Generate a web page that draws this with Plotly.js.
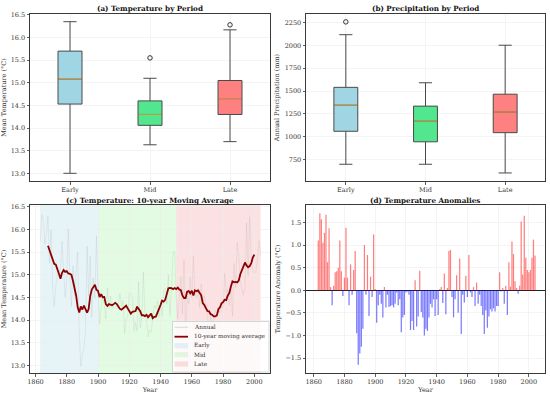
<!DOCTYPE html>
<html><head><meta charset="utf-8">
<script src="https://cdn.plot.ly/plotly-3.0.1.min.js"></script>
<style>html,body{margin:0;padding:0;background:#fff}#chart{width:550px;height:394px}</style>
</head><body><div id="chart"></div>
<script>
// ---------- data ----------
const periods = ['Early', 'Mid', 'Late'];
const tempQ1 = [14.53, 14.06, 14.30];
const tempMedian = [15.08, 14.30, 14.65];
const tempQ3 = [15.70, 14.60, 15.05];
const tempLow = [13.00, 13.63, 13.70];
const tempHigh = [16.35, 15.10, 16.17];
const tempOutPeriod = ['Mid', 'Late'];
const tempOutValue = [15.55, 16.28];

const precipQ1 = [1060, 945, 1045];
const precipMedian = [1345, 1170, 1270];
const precipQ3 = [1540, 1335, 1465];
const precipLow = [700, 700, 605];
const precipHigh = [2115, 1590, 2000];
const precipOutPeriod = ['Early'];
const precipOutValue = [2255];

const firstYear = 1863;
const baselineTemp = 14.63;
const anomaly = [
  1.10, 1.70, 1.57, 1.05, 1.27, 1.67, 0.62, 1.37, 0.07, -0.33,
  0.10, 0.40, 0.42, 0.50, 1.10, 0.42, -0.13, 0.28, 1.38, 0.28,
  -0.33, 0.57, -0.10, 0.45, 0.87, -0.95, -1.65, -1.40, -1.25, -0.85,
  1.00, -0.10, 0.78, -0.57, 0.30, -0.15, 1.23, 0.03, -0.72, -0.33,
  -0.10, -0.30, -0.60, 0.07, -0.38, -0.10, -0.37, -0.35, -0.33, -0.38,
  -0.30, -0.05, -0.33, -0.20, -0.93, -0.60, -0.55, -0.05, -0.03, -0.10,
  -0.88, -0.68, -0.88, 0.22, -0.80, -0.58, 0.43, -0.48, -0.60, -1.00,
  -0.85, -0.90, -0.60, -0.30, -0.38, -0.20, -0.57, -0.20, -0.55, 0.03,
  0.07, -0.28, 0.37, -0.53, 0.05, 0.87, 0.89, -0.15, -0.60, -0.20,
  0.33, -0.50, 0.70, -0.97, -0.10, -0.27, 0.32, -0.15, 0.78, -0.05,
  -0.15, 0.07, -0.35, 0.17, -0.30, -0.10, -0.35, -0.55, -0.97, -0.45,
  -0.83, -0.58, -0.42, -0.47, -0.40, -0.47, -0.35, -0.35, 0.40, -0.03,
  0.05, -0.30, 0.10, -0.55, 0.62, 0.08, 1.08, 0.80, 0.20, 0.05,
  -0.08, 0.10, 1.52, 0.35, 1.65, 0.72, 0.45, 0.40, 0.45, 0.72,
  1.12, 0.77
];
const periodStart = [1863, 1900, 1950];
const periodEnd = [1900, 1950, 2004];
const maWindow = 10;

// ---------- styles ----------
const boxFill = ['#a0d6e3', '#52e68f', '#ff8080'];
const periodFill = ['rgba(173,216,230,0.30)', 'rgba(144,238,144,0.26)', 'rgba(240,128,128,0.24)'];
const FF = 'DejaVu Serif';
const W = 550, H = 394;
const PX = p => p / W, PY = p => 1 - p / H;

// ---------- derived ----------
const years = anomaly.map((_, i) => firstYear + i);
const temps = anomaly.map(a => baselineTemp + a);
const maX = [], maY = [];
const half = maWindow / 2;
for (let i = half; i <= temps.length - half; i++) {
  let s = 0;
  for (let k = i - half; k < i + half; k++) s += temps[k];
  maX.push(years[i]); maY.push(s / maWindow);
}

const traces = [];
function addBoxes(xa, ya, q1, med, q3, lo, hi, outP, outV) {
  periods.forEach((p, i) => {
    traces.push({type: 'box', x: [p], q1: [q1[i]], median: [med[i]], q3: [q3[i]],
      lowerfence: [lo[i]], upperfence: [hi[i]], fillcolor: boxFill[i],
      line: {color: '#4a4a4a', width: 1}, width: 0.3, whiskerwidth: 0.55,
      boxpoints: false, xaxis: xa, yaxis: ya, showlegend: false, hoverinfo: 'skip'});
  });
  traces.push({type: 'scatter', mode: 'markers', x: periods, y: med, xaxis: xa, yaxis: ya,
    marker: {symbol: 'line-ew', size: 16.5, line: {color: '#e0a040', width: 0.9}},
    showlegend: false, hoverinfo: 'skip'});
  traces.push({type: 'scatter', mode: 'markers', x: outP, y: outV, xaxis: xa, yaxis: ya,
    marker: {symbol: 'circle-open', size: 4.5, color: '#333', line: {width: 1}},
    showlegend: false, hoverinfo: 'skip'});
}
addBoxes('x', 'y', tempQ1, tempMedian, tempQ3, tempLow, tempHigh, tempOutPeriod, tempOutValue);
addBoxes('x2', 'y2', precipQ1, precipMedian, precipQ3, precipLow, precipHigh, precipOutPeriod, precipOutValue);

traces.push({type: 'scatter', mode: 'lines', x: years, y: temps, xaxis: 'x3', yaxis: 'y3',
  line: {color: 'rgba(128,128,128,0.2)', width: 0.6}, name: 'Annual', showlegend: false, hoverinfo: 'skip'});
traces.push({type: 'scatter', mode: 'lines', x: maX, y: maY, xaxis: 'x3', yaxis: 'y3',
  line: {color: '#8b0000', width: 1.8}, name: '10-year moving average', showlegend: false, hoverinfo: 'skip'});

traces.push({type: 'bar', x: years, y: anomaly, xaxis: 'x4', yaxis: 'y4', width: 0.8,
  marker: {color: anomaly.map(a => a >= 0 ? 'rgba(255,0,0,0.5)' : 'rgba(0,0,255,0.52)'), line: {width: 0}},
  showlegend: false, hoverinfo: 'skip'});

// ---------- layout ----------
const tickFont = {family: FF, size: 6.5, color: '#333'};
const titleFont = {family: FF, size: 6.5, color: '#333'};
const base = {showline: true, mirror: true, linecolor: '#3a3a3a', linewidth: 1,
  ticks: 'outside', ticklen: 2.5, tickwidth: 0.8, tickcolor: '#3a3a3a', tickfont: tickFont,
  showgrid: true, gridcolor: '#ececec', gridwidth: 0.6, zeroline: false};
const dxL = [PX(30), PX(270)], dxR = [PX(306), PX(545)];
const dyT = [PY(181), PY(14)], dyB = [PY(373), PY(205)];

const shapes = [];
periods.forEach((p, i) => {
  shapes.push({type: 'rect', xref: 'x3', yref: 'y3 domain', x0: periodStart[i], x1: periodEnd[i],
    y0: 0, y1: 1, fillcolor: periodFill[i], line: {width: 0}, layer: 'below'});
});

// manual legend (panel c)
const legRows = [327.3, 336.7, 345.7, 354.7, 364];
const legNames = ['Annual', '10-year moving average'].concat(periods);
shapes.push({type: 'rect', xref: 'paper', yref: 'paper', x0: PX(172.5), x1: PX(269), y0: PY(372), y1: PY(321.5),
  fillcolor: 'rgba(255,255,255,0.8)', line: {color: '#cccccc', width: 0.8}});
shapes.push({type: 'line', xref: 'paper', yref: 'paper', x0: PX(174.5), x1: PX(188), y0: PY(legRows[0]), y1: PY(legRows[0]),
  line: {color: 'rgba(128,128,128,0.35)', width: 0.8}});
shapes.push({type: 'line', xref: 'paper', yref: 'paper', x0: PX(174.5), x1: PX(188), y0: PY(legRows[1]), y1: PY(legRows[1]),
  line: {color: '#8b0000', width: 1.8}});
periods.forEach((p, i) => {
  const yc = legRows[i + 2];
  shapes.push({type: 'rect', xref: 'paper', yref: 'paper', x0: PX(174.5), x1: PX(188), y0: PY(yc + 2.6), y1: PY(yc - 2.6),
    fillcolor: periodFill[i], line: {width: 0}});
});

const annotations = [];
const titles = [['(a) Temperature by Period', 150, 8.3], ['(b) Precipitation by Period', 425, 8.3],
  ['(c) Temperature: 10-year Moving Average', 150, 200], ['(d) Temperature Anomalies', 425, 200]];
titles.forEach(t => annotations.push({text: '<b>' + t[0] + '</b>', xref: 'paper', yref: 'paper',
  x: PX(t[1]), y: PY(t[2]), xanchor: 'center', yanchor: 'middle', showarrow: false,
  font: {family: FF, size: 7.2, color: '#111'}}));
legNames.forEach((n, i) => annotations.push({text: n, xref: 'paper', yref: 'paper',
  x: PX(191.5), y: PY(legRows[i]), xanchor: 'left', yanchor: 'middle', showarrow: false,
  font: {family: FF, size: 5.8, color: '#333'}}));

const layout = {
  width: W, height: H, margin: {l: 0, r: 0, t: 0, b: 0},
  paper_bgcolor: '#fff', plot_bgcolor: '#fff', showlegend: false,
  xaxis: Object.assign({}, base, {domain: dxL, anchor: 'y', type: 'category', range: [-0.5, 2.5]}),
  yaxis: Object.assign({}, base, {domain: dyT, anchor: 'x', range: [12.83, 16.52], dtick: 0.5, tick0: 13, tickformat: '.1f',
    title: {text: 'Mean Temperature (°C)', font: titleFont, standoff: 4}}),
  xaxis2: Object.assign({}, base, {domain: dxR, anchor: 'y2', type: 'category', range: [-0.5, 2.5]}),
  yaxis2: Object.assign({}, base, {domain: dyT, anchor: 'x2', range: [517, 2341], dtick: 250, tick0: 750, tickformat: 'd',
    title: {text: 'Annual Precipitation (mm)', font: titleFont, standoff: 4}}),
  xaxis3: Object.assign({}, base, {domain: dxL, anchor: 'y3', range: [1856.5, 2010], dtick: 20, tick0: 1860,
    title: {text: 'Year', font: titleFont, standoff: 2}}),
  yaxis3: Object.assign({}, base, {domain: dyB, anchor: 'x3', range: [12.83, 16.54], dtick: 0.5, tick0: 13, tickformat: '.1f',
    title: {text: 'Mean Temperature (°C)', font: titleFont, standoff: 4}}),
  xaxis4: Object.assign({}, base, {domain: dxR, anchor: 'y4', range: [1855, 2010.5], dtick: 20, tick0: 1860,
    title: {text: 'Year', font: titleFont, standoff: 2}}),
  yaxis4: Object.assign({}, base, {domain: dyB, anchor: 'x4', range: [-1.83, 1.885], dtick: 0.5, tick0: 0, tickformat: '.1f',
    zeroline: true, zerolinecolor: '#222', zerolinewidth: 1,
    title: {text: 'Temperature Anomaly (°C)', font: titleFont, standoff: 4}}),
  shapes: shapes, annotations: annotations
};
Plotly.newPlot('chart', traces, layout, {staticPlot: true, displayModeBar: false});
</script></body></html>
